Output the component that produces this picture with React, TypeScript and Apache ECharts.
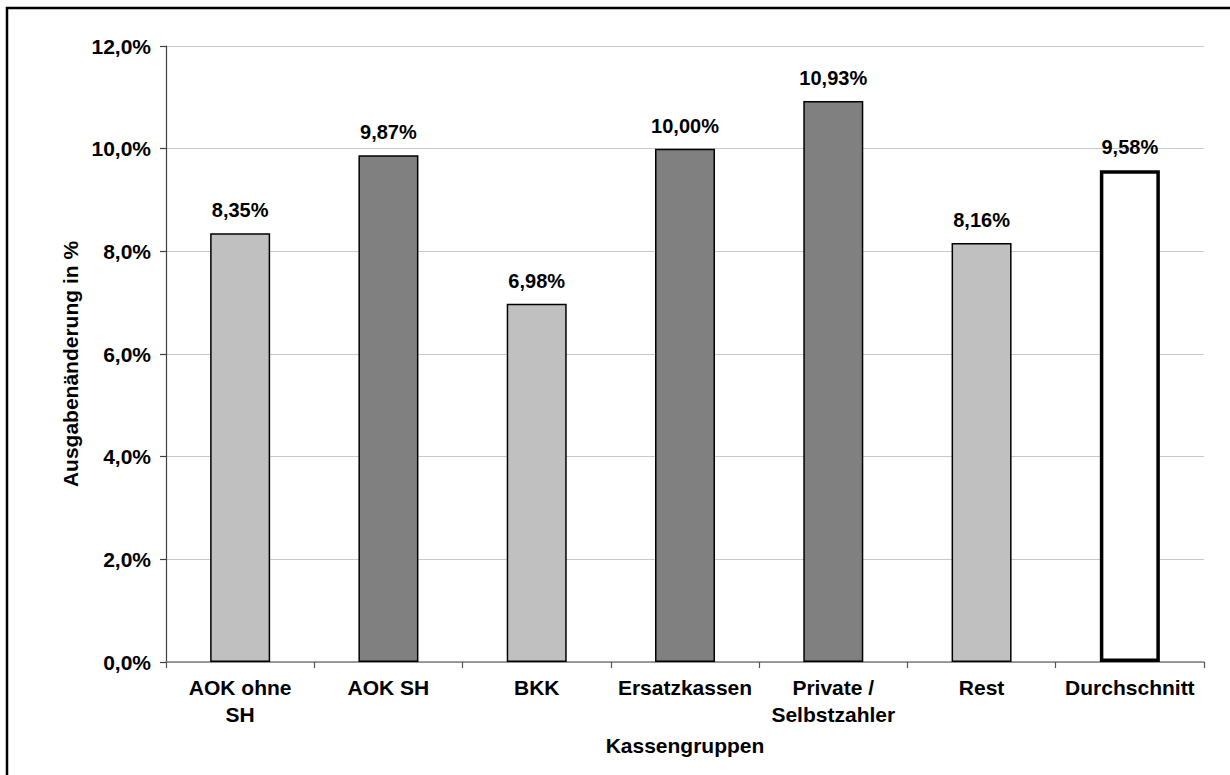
import React, { useEffect, useRef } from "react";
import * as echarts from "echarts";

const categories = ["AOK ohne\nSH", "AOK SH", "BKK", "Ersatzkassen", "Private /\nSelbstzahler", "Rest", "Durchschnitt"];
const values = [8.35, 9.87, 6.98, 10.0, 10.93, 8.16, 9.58];
const barColors = ["#C0C0C0", "#808080", "#C0C0C0", "#808080", "#808080", "#C0C0C0", "#FFFFFF"];
const borderWidths = [1.5, 1.5, 1.5, 1.5, 1.5, 1.5, 3.5];
const yTicks = { min: 0, max: 12, interval: 2 };
const yAxisTitle = "Ausgabenänderung in %";
const xAxisTitle = "Kassengruppen";

const FONT = '"Liberation Sans", Arial, sans-serif';

export default function App() {
  const ref = useRef<HTMLDivElement>(null);
  useEffect(() => {
    if (!ref.current) return;
    const chart = echarts.init(ref.current, undefined, { renderer: "svg" });
    chart.setOption({
      animation: false,
      backgroundColor: "#ffffff",
      textStyle: { fontFamily: FONT },
      graphic: [
        {
          type: "rect",
          shape: { x: 7, y: 8, width: 1400, height: 1000 },
          style: { fill: "none", stroke: "#000", lineWidth: 2.5 },
          silent: true,
        },
      ],
      grid: { left: 166, right: 26, top: 46, bottom: 113, containLabel: false },
      xAxis: {
        type: "category",
        data: categories,
        name: xAxisTitle,
        nameLocation: "middle",
        nameGap: 73,
        nameTextStyle: { fontFamily: FONT, fontWeight: "bold", fontSize: 21, color: "#000" },
        axisLine: { lineStyle: { color: "#808080", width: 1.5 } },
        axisTick: { show: true, length: 6, lineStyle: { color: "#555", width: 1.2 }, alignWithLabel: false },
        axisLabel: {
          interval: 0,
          margin: 12,
          fontFamily: FONT,
          fontWeight: "bold",
          fontSize: 21,
          lineHeight: 27,
          color: "#000",
        },
        splitLine: { show: false },
      },
      yAxis: {
        type: "value",
        min: yTicks.min,
        max: yTicks.max,
        interval: yTicks.interval,
        name: yAxisTitle,
        nameLocation: "middle",
        nameGap: 83,
        nameRotate: 90,
        nameTextStyle: {
          fontFamily: FONT,
          fontWeight: "bold",
          fontSize: 21,
          color: "#000",
          padding: [0, 20, 0, 0],
        },
        axisLine: { show: true, lineStyle: { color: "#404040", width: 1.2 } },
        axisTick: { show: true, length: 6, lineStyle: { color: "#404040", width: 1.2 } },
        axisLabel: {
          margin: 15,
          fontFamily: FONT,
          fontWeight: "bold",
          fontSize: 21,
          color: "#000",
          formatter: (v: number) => v.toFixed(1).replace(".", ",") + "%",
        },
        splitLine: { show: true, lineStyle: { color: "#C8C8C8", width: 1 } },
      },
      series: [
        {
          type: "bar",
          barWidth: 60,
          data: values.map((v, i) => ({
            value: v,
            itemStyle: { color: barColors[i], borderColor: "#000", borderWidth: borderWidths[i] },
          })),
          label: {
            show: true,
            position: "top",
            distance: 13,
            fontFamily: FONT,
            fontWeight: "bold",
            fontSize: 20,
            color: "#000",
            formatter: (p: any) => p.value.toFixed(2).replace(".", ",") + "%",
          },
        },
      ],
    });
    return () => chart.dispose();
  }, []);
  return <div ref={ref} style={{ position: "fixed", left: 0, top: 0, width: 1230, height: 775 }} />;
}
